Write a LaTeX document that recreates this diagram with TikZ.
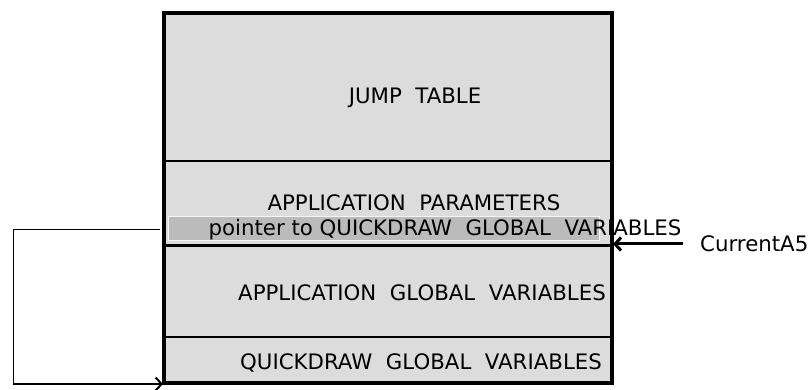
\documentclass[tikz,border=0pt]{standalone}
\usepackage{fontspec}
\setmainfont{DejaVu Sans}
\usetikzlibrary{arrows.meta}
\definecolor{memgray}{HTML}{DCDCDC}
\definecolor{ptrgray}{HTML}{BBBBBB}
\begin{document}
\begin{tikzpicture}[x=1pt, y=1pt,
	memtext/.style={font=\fontsize{21.3}{25}\selectfont, inner sep=0pt},
	barb/.style={-{Straight Barb[length=6pt, width=13pt]}}]
	\useasboundingbox (0,0) rectangle (808,390);
	\fill [memgray] (164,7) rectangle (612,377);
	\filldraw [fill=ptrgray, draw=white!85!ptrgray, line width=1pt] (168,149) rectangle (599,173);
	\node [memtext] (jump) at (415,292) {JUMP\ \ TABLE};
	\node [memtext] (params) at (414,187) {APPLICATION\ \ PARAMETERS};
	\node [memtext] (ptr) at (445,160) {pointer to QUICKDRAW\ \ GLOBAL\ \ VARIABLES};
	\node [memtext] (appglob) at (422,97) {APPLICATION\ \ GLOBAL\ \ VARIABLES};
	\node [memtext] (qdglob) at (421,27) {QUICKDRAW\ \ GLOBAL\ \ VARIABLES};
	\node [memtext, anchor=west] (a5) at (700,146) {CurrentA5};
	\draw [line width=2pt] (164,229) -- (612,229);
	\draw [line width=3pt] (164,144) -- (612,144);
	\draw [line width=2pt] (164,53) -- (612,53);
	\draw [line width=4pt] (164,7) rectangle (612,377);
	\coordinate (a5end) at (683,146);
	\coordinate (a5tip) at (613,146);
	\draw [barb, line width=3pt] (a5end) -- (a5tip);
	\coordinate (ptrout) at (160,160);
	\coordinate (corner1) at (13,160);
	\coordinate (corner2) at (13,6);
	\coordinate (qdin) at (163,6);
	\draw [line width=1pt] (ptrout) -- (corner1) -- (corner2);
	\draw [barb, line width=2pt] (corner2) -- (qdin);
\end{tikzpicture}
\end{document}
